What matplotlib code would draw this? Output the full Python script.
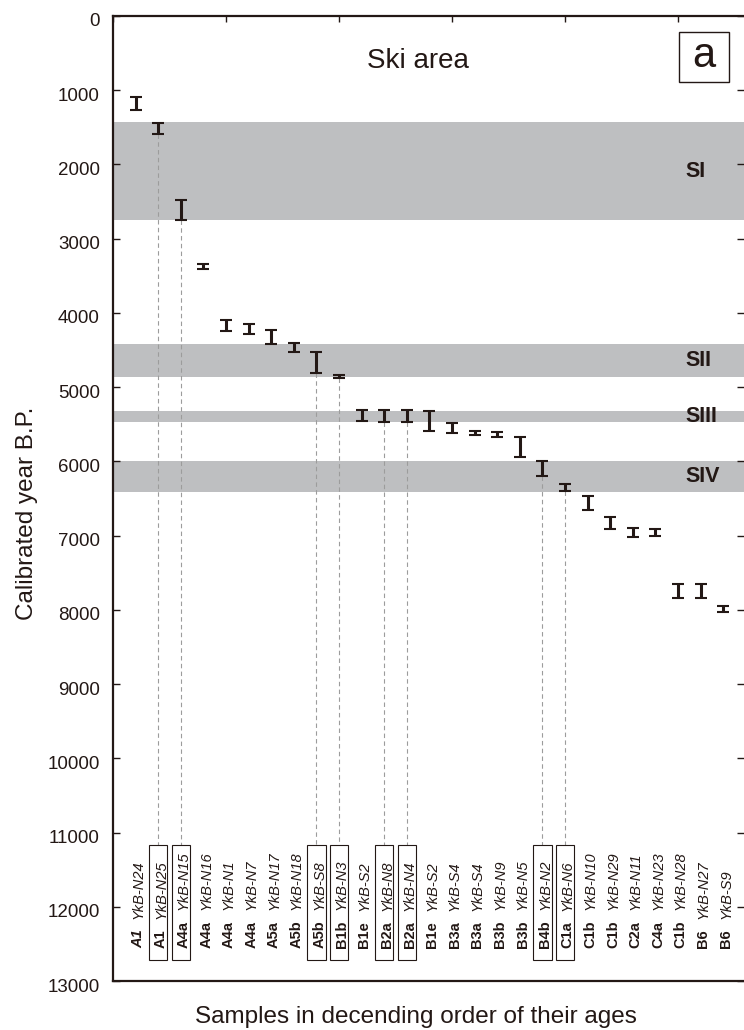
import matplotlib
matplotlib.use("Agg")
import matplotlib.pyplot as plt
from matplotlib.patches import Rectangle
from matplotlib.transforms import ScaledTranslation

plt.rcParams["font.family"] = ["Liberation Sans", "DejaVu Sans"]

# sample unit, lab id and 2-sigma calibrated age range (yr B.P.)
units = ["A1", "A1", "A4a", "A4a", "A4a", "A4a", "A5a", "A5b", "A5b", "B1b",
         "B1e", "B2a", "B2a", "B1e", "B3a", "B3a", "B3b", "B3b", "B4b", "C1a",
         "C1b", "C1b", "C2a", "C4a", "C1b", "B6", "B6"]
lab_ids = ["YkB-N24", "YkB-N25", "YkB-N15", "YkB-N16", "YkB-N1", "YkB-N7",
           "YkB-N17", "YkB-N18", "YkB-S8", "YkB-N3", "YkB-S2", "YkB-N8",
           "YkB-N4", "YkB-S2", "YkB-S4", "YkB-S4", "YkB-N9", "YkB-N5",
           "YkB-N2", "YkB-N6", "YkB-N10", "YkB-N29", "YkB-N11", "YkB-N23",
           "YkB-N28", "YkB-N27", "YkB-S9"]
age_min = [1085, 1445, 2480, 3335, 4100, 4155, 4235, 4410, 4525, 4840,
           5310, 5310, 5310, 5325, 5485, 5590, 5600, 5670, 6000, 6300,
           6470, 6750, 6895, 6905, 7655, 7655, 7945]
age_max = [1265, 1585, 2750, 3410, 4250, 4290, 4415, 4530, 4815, 4880,
           5460, 5470, 5470, 5590, 5620, 5650, 5665, 5935, 6195, 6405,
           6650, 6905, 7020, 7010, 7845, 7845, 8025]
boxed = [False, True, True, False, False, False, False, False, True, True,
         False, True, True, False, False, False, False, False, True, True,
         False, False, False, False, False, False, False]

# event bands
band_names = ["SI", "SII", "SIII", "SIV"]
band_top = [1430, 4425, 5315, 6000]
band_bottom = [2750, 4865, 5470, 6410]

ink = "#231815"
dpi = 100
fig = plt.figure(figsize=(7.44, 10.30), dpi=dpi)
ax = fig.add_axes([113 / 744, 49 / 1030, 631 / 744, 965 / 1030])

x = list(range(1, len(units) + 1))
mid = [(a + b) / 2 for a, b in zip(age_min, age_max)]
half = [(b - a) / 2 for a, b in zip(age_min, age_max)]

for top, bot, name in zip(band_top, band_bottom, band_names):
    ax.axhspan(top, bot, color="#bebfc1", lw=0, zorder=0)
    ax.text(0.9065, (top + bot) / 2, name, transform=ax.get_yaxis_transform(),
            ha="left", va="center", fontsize=15.5, fontweight="bold", color=ink)

ax.errorbar(x, mid, yerr=half, fmt="none", ecolor=ink, elinewidth=2.2,
            capsize=4.2, capthick=1.5, zorder=3)

label_bottom = 12560
box_top, box_bottom = 11171, 12719
for xi, lo, b in zip(x, age_max, boxed):
    if b:
        ax.plot([xi, xi], [lo, box_top], color="#9c9c9c", lw=0.8,
                dashes=(4, 3), zorder=1)
        ax.add_patch(Rectangle((xi - 0.405, box_top), 0.81, box_bottom - box_top,
                               fill=False, ec=ink, lw=0.8, zorder=2))

ax.set_xlim(0, 27.92)
ax.set_ylim(13000, 0)

# unit names in bold, stacked below the italic lab ids
shift = ScaledTranslation(6.8 / dpi, 0, fig.dpi_scale_trans)
unit_texts = []
for i, (xi, u) in enumerate(zip(x, units)):
    t = ax.text(xi, label_bottom, u, transform=ax.transData + shift,
                rotation=90, rotation_mode="anchor", ha="left", va="baseline",
                fontsize=10.5, fontweight="bold",
                fontstyle="italic" if i == 0 else "normal", color=ink)
    unit_texts.append(t)

fig.canvas.draw()
renderer = fig.canvas.get_renderer()
for xi, t, lab in zip(x, unit_texts, lab_ids):
    h = t.get_window_extent(renderer).height
    up = ScaledTranslation(6.8 / dpi, (h + 11) / dpi, fig.dpi_scale_trans)
    ax.text(xi, label_bottom, lab, transform=ax.transData + up,
            rotation=90, rotation_mode="anchor", ha="left", va="baseline",
            fontsize=10.5, fontstyle="italic", color=ink)

ax.set_yticks(range(0, 13001, 1000))
ax.set_xticks(range(0, 26, 5))
ax.tick_params(axis="y", which="both", direction="in", length=5, width=1,
               color=ink, left=True, right=True, labelsize=13.5, pad=9.5,
               labelcolor=ink)
ax.tick_params(axis="x", direction="in", length=4.5, width=1, color=ink,
               top=True, bottom=False, labeltop=False, labelbottom=False)
for lbl in ax.get_yticklabels():
    lbl.set_transform(lbl.get_transform() + ScaledTranslation(0, -0.04, fig.dpi_scale_trans))

for side in ["left", "bottom", "top"]:
    ax.spines[side].set_linewidth(1.6)
    ax.spines[side].set_color(ink)
ax.spines["right"].set_visible(False)

ax.set_ylabel("Calibrated year B.P.", fontsize=17.5, color=ink)
ax.yaxis.set_label_coords(-0.119, 0.485)
ax.set_xlabel("Samples in decending order of their ages", fontsize=17.5, color=ink)
ax.xaxis.set_label_coords(0.48, -0.026)

ax.text(0.483, 0.953, "Ski area", transform=ax.transAxes, ha="center", va="center",
        fontsize=20, color=ink)
ax.add_patch(Rectangle((0.897, 0.9316), 0.079, 0.0518, transform=ax.transAxes,
                       fill=False, ec=ink, lw=1.0, zorder=4))
ax.text(0.9365, 0.9585, "a", transform=ax.transAxes, ha="center", va="center",
        fontsize=30, color=ink)

fig.savefig("out.png", dpi=dpi)
